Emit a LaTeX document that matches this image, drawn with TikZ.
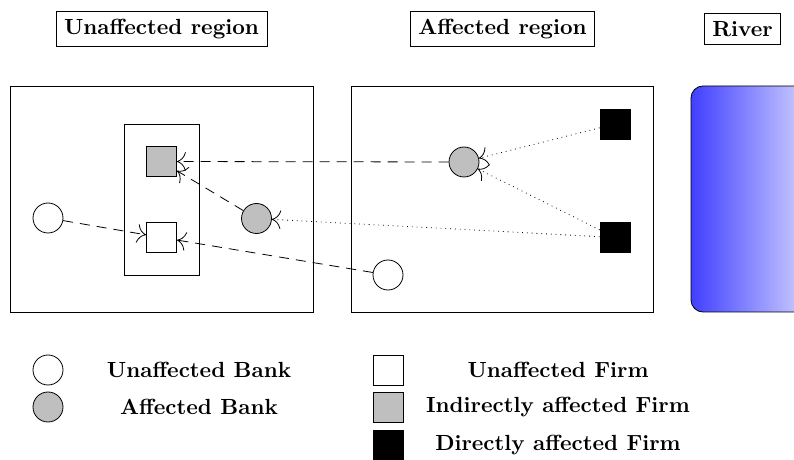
\documentclass[tikz,border=0pt,11pt]{standalone}
\usetikzlibrary{arrows.meta}

\begin{document}
\begin{tikzpicture}[x=0.5pt, y=-0.5pt,
    title/.style={draw, font=\bfseries, inner sep=4pt},
    bank/.style={circle, draw, minimum size=15pt, inner sep=0pt},
    firm/.style={rectangle, draw, minimum size=15pt, inner sep=0pt},
    hit/.style={fill=gray!50},
    direct/.style={fill=black},
    loan/.style={-{To[scale=1.8]}, dash pattern=on 5pt off 3.5pt},
    supply/.style={-{To[scale=1.8]}, dotted},
    legend/.style={font=\bfseries}]
  % flood, banks and firms
    \useasboundingbox (0,0) rectangle (794,460);

    \node[title] (tUnaff) at (161.5,29) {Unaffected region};
    \node[title] (tAff) at (502.5,29) {Affected region};
    \node[title] (tRiver) at (742.5,29) {River};

    \draw (10,86) rectangle (313,312);
    \draw (351,86) rectangle (653,312);
    \begin{scope}
      \clip (0,0) rectangle (794,460);
      \shade[left color=blue!75, right color=blue!8, rounded corners=6pt] (691,86) rectangle (830,312);
      \draw[rounded corners=6pt] (691,86) rectangle (830,312);
    \end{scope}
    \draw (124,124) rectangle (199,275);

    \node[firm, hit] (fGray) at (161.5,161.5) {};
    \node[firm] (fWhite) at (161.5,237.5) {};
    \node[bank, hit] (bLeft) at (256.5,218.5) {};
    \node[bank] (bOut) at (48,218) {};
    \node[bank] (bLow) at (388,275) {};
    \node[bank, hit] (bMid) at (464,162) {};
    \node[firm, direct] (fTop) at (615,124) {};
    \node[firm, direct] (fLow) at (615,237.5) {};

    \draw[loan] (bMid) -- (fGray);
    \draw[loan] (bLeft) -- (fGray);
    \draw[loan] (bOut) -- (fWhite);
    \draw[loan] (bLow) -- (fWhite);
    \draw[supply] (fTop) -- (bMid);
    \draw[supply] (fLow) -- (bMid);
    \draw[supply] (fLow) -- (bLeft);

    % legend
    \node[bank] (kBank) at (48,370) {};
    \node[bank, hit] (kHitBank) at (48,407) {};
    \node[legend] (lBank) at (199,370) {Unaffected Bank};
    \node[legend] (lHitBank) at (199,407) {Affected Bank};
    \node[firm] (kFirm) at (388,370) {};
    \node[firm, hit] (kHitFirm) at (388,407) {};
    \node[firm, direct] (kDirFirm) at (388,445) {};
    \node[legend] (lFirm) at (558,370) {Unaffected Firm};
    \node[legend] (lHitFirm) at (558,407) {Indirectly affected Firm};
    \node[legend] (lDirFirm) at (558,445) {Directly affected Firm};
\end{tikzpicture}
\end{document}
